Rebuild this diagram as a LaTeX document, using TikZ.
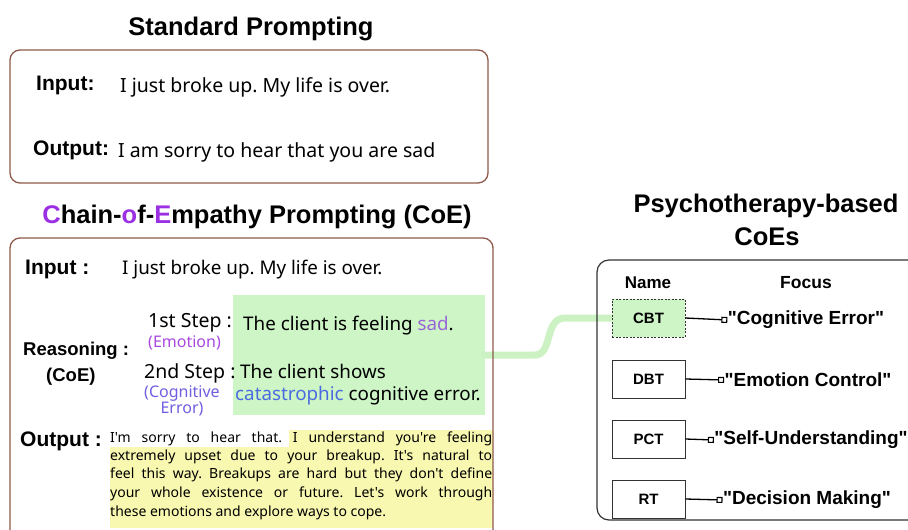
\documentclass[tikz,border=0pt]{standalone}
\usepackage{fontspec}
\newfontfamily\nf{Noto Sans}
\newfontfamily\bnf{Liberation Sans}
\usetikzlibrary{arrows.meta}
\definecolor{brownb}{HTML}{8E5A4B}
\definecolor{grayb}{HTML}{333333}
\definecolor{gfill}{HTML}{CDF5C6}
\definecolor{gconn}{HTML}{CCF2C4}
\definecolor{yfill}{HTML}{F8F8B0}
\definecolor{ttlpurple}{HTML}{9B2FE3}
\definecolor{emopurple}{HTML}{A848E0}
\definecolor{cogpurple}{HTML}{6F5FE0}
\definecolor{sadpurple}{HTML}{9A66D6}
\definecolor{catblue}{HTML}{4D6BE0}
\tikzset{
  ttl/.style={font=\bnf\bfseries\fontsize{25.5}{28}\selectfont, inner sep=0pt, anchor=base},
  lbl/.style={font=\bnf\bfseries\fontsize{21}{24}\selectfont, inner sep=0pt, anchor=base west},
  slbl/.style={font=\bnf\bfseries\fontsize{18.5}{22}\selectfont, inner sep=0pt, anchor=base west},
  txt/.style={font=\nf\fontsize{19.5}{23}\selectfont, inner sep=0pt, anchor=base west},
  gtxt/.style={font=\nf\fontsize{18.8}{23}\selectfont, inner sep=0pt, anchor=base west},
  sub/.style={font=\nf\fontsize{16}{17}\selectfont, inner sep=0pt, anchor=base west},
  outl/.style={font=\nf\fontsize{14}{16}\selectfont, inner sep=0pt, anchor=base west},
  panel/.style={draw=brownb, line width=1.3pt, rounded corners=10pt},
  rpanel/.style={draw=grayb, line width=1.2pt, rounded corners=12pt},
  namebox/.style={draw=grayb, line width=0.9pt, fill=white, minimum width=73pt, minimum height=38pt, inner sep=0pt, font=\bnf\bfseries\fontsize{15}{18}\selectfont},
  focus/.style={font=\bnf\bfseries\fontsize{19}{22}\selectfont, inner xsep=0.3pt, inner ysep=0pt},
  flink/.style={draw=black, line width=1.3pt, -{Square[open,length=6pt,width=6pt,line width=1.1pt]}},
  conn/.style={draw=gconn, line width=7pt, line cap=round},
}
\begin{document}
\frenchspacing
\begin{tikzpicture}[x=1pt,y=-1pt]
\useasboundingbox (0,0) rectangle (908,530);
\clip (0,0) rectangle (908,530);
\fill[white] (0,0) rectangle (908,530);

% ---------- Standard prompting ----------
\node[ttl] (t1) at (251,35) {Standard Prompting};
\draw[panel] (10,50) rectangle (488,183);
\node[lbl] (sin) at (36,90) {Input:};
\node[txt] (sintxt) at (120,92) {I just broke up. My life is over.};
\node[lbl] (sout) at (33,155) {Output:};
\node[txt] (souttxt) at (118,157) {I am sorry to hear that you are sad};

% ---------- CoE ----------
\node[ttl] (t2) at (257,223) {\textcolor{ttlpurple}{C}hain-\textcolor{ttlpurple}{o}f-\textcolor{ttlpurple}{E}mpathy Prompting (CoE)};

% yellow highlight of output
\fill[yfill] (289,430) rectangle (493,447);
\fill[yfill] (110,447) rectangle (493,528);

% green reasoning box
\node[fill=gfill, minimum width=252pt, minimum height=120pt, inner sep=0pt] (gb) at (359,355) {};

% connector to CBT (drawn before borders)
\coordinate (cbtw) at (612,318);
\draw[conn] (gb.east) -- (535,355) .. controls (553,355) and (544,318) .. (565,318) -- (cbtw);

\draw[panel] (10,238) rectangle (493,560);

\node[lbl] (cin) at (25,274) {Input :};
\node[gtxt] (cintxt) at (122,274) {I just broke up. My life is over.};

\node[slbl] (reas) at (23,355) {Reasoning :};
\node[slbl] (coe) at (46,381) {(CoE)};

\node[txt] (s1) at (148,327) {1st Step :};
\node[sub, text=emopurple] (s1e) at (148,347) {(Emotion)};
\node[txt] (s2) at (144,378) {2nd Step :};
\node[sub, text=cogpurple, anchor=base] (s2e) at (182,397) {(Cognitive};
\node[sub, text=cogpurple, anchor=base] (s2f) at (182,413) {Error)};

\node[gtxt] (g1) at (243,330) {The client is feeling \textcolor{sadpurple}{sad}.};
\node[gtxt] (g2) at (240,378) {The client shows};
\node[gtxt] (g3) at (235,400) {\textcolor{catblue}{catastrophic} cognitive error.};

\node[lbl] (cout) at (20,446) {Output :};
\node[outl] (o1) at (110,442) {\makebox[382pt][s]{I'm sorry to hear that. I understand you're feeling}};
\node[outl] (o2) at (110,460) {\makebox[382pt][s]{extremely upset due to your breakup. It's natural to}};
\node[outl] (o3) at (110,478) {\makebox[382pt][s]{feel this way. Breakups are hard but they don't define}};
\node[outl] (o4) at (110,497) {\makebox[382pt][s]{your whole existence or future. Let's work through}};
\node[outl] (o5) at (110,516) {these emotions and explore ways to cope.};

% ---------- Psychotherapy-based CoEs ----------
\node[ttl] (t3) at (766,212) {Psychotherapy-based};
\node[ttl] (t4) at (767,245) {CoEs};
\draw[rpanel] (597,260) rectangle (940,520);

\node[font=\bnf\bfseries\fontsize{17}{18}\selectfont, inner sep=0pt, anchor=base] (hname) at (648,288) {Name};
\node[font=\bnf\bfseries\fontsize{17.5}{18}\selectfont, inner sep=0pt, anchor=base] (hfocus) at (806,288) {Focus};

\node[namebox, fill=gfill, dashed, dash pattern=on 2pt off 1.5pt] (cbt) at (648.5,318) {CBT};
\node[namebox] (dbt) at (648.5,379) {DBT};
\node[namebox] (pct) at (648.5,439) {PCT};
\node[namebox] (rt) at (648.5,499) {RT};

\node[focus] (f1) at (806,320) {"Cognitive Error"};
\node[focus] (f2) at (808,380) {"Emotion Control"};
\node[focus] (f3) at (811,440) {"Self-Understanding"};
\node[focus] (f4) at (807,500) {"Decision Making"};

\draw[flink] (cbt.east) -- (f1.west);
\draw[flink] (dbt.east) -- (f2.west);
\draw[flink] (pct.east) -- (f3.west);
\draw[flink] (rt.east) -- (f4.west);
\end{tikzpicture}
\end{document}
